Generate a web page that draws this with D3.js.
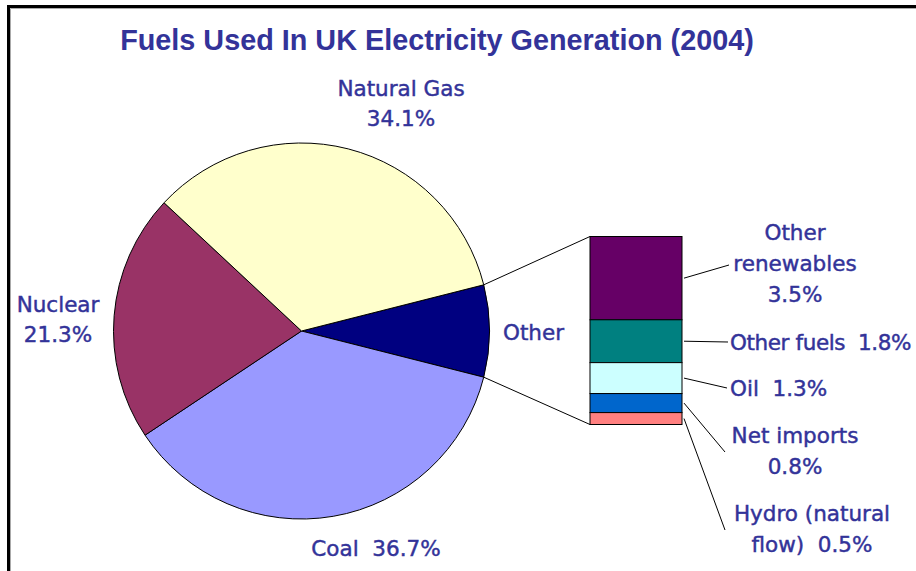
<!DOCTYPE html>
<html>
<head>
<meta charset="utf-8">
<script src="https://cdn.jsdelivr.net/npm/d3@7"></script>
<style>
  html, body { margin: 0; padding: 0; background: #fff; }
  svg { display: block; }
</style>
</head>
<body>
<svg id="chart" width="916" height="571"></svg>
<script>
// ---- data ----
const title = "Fuels Used In UK Electricity Generation (2004)";
const mainCategories = ["Coal", "Nuclear", "Natural Gas"];
const mainValues = [36.7, 21.3, 34.1];
const otherName = "Other";
const subCategories = ["Other renewables", "Other fuels", "Oil", "Net imports", "Hydro (natural flow)"];
const subValues = [3.5, 1.8, 1.3, 0.8, 0.5];

const mainColors = { "Other": "#000080", "Coal": "#9999FF", "Nuclear": "#993366", "Natural Gas": "#FFFFCC" };
const subColors = ["#660066", "#008080", "#CCFFFF", "#0066CC", "#FF8080"];
const textColor = "#333399";

const svg = d3.select("#chart");
const fmt = v => d3.format(".1f")(v) + "%";

// frame
svg.append("rect").attr("x", 8.5).attr("y", 6.5).attr("width", 1000).attr("height", 1000)
  .attr("fill", "none").attr("stroke", "#000").attr("stroke-width", 3);
svg.append("path").attr("d", "M10.5,1000V8.5H1000").attr("fill", "none").attr("stroke", "#aaa").attr("stroke-width", 1);

// title
svg.append("text").attr("x", 437).attr("y", 50).attr("text-anchor", "middle")
  .attr("font-family", "Liberation Sans, Arial, sans-serif").attr("font-weight", "bold")
  .attr("font-size", 28.8).attr("fill", textColor).text(title);

// ---- pie ----
const otherTotal = d3.sum(subValues);
const pieData = [{ name: otherName, value: otherTotal }].concat(mainCategories.map((c, i) => ({ name: c, value: mainValues[i] })));
const total = d3.sum(pieData, d => d.value);
const otherAngle = otherTotal / total * 2 * Math.PI;
const start = Math.PI / 2 - otherAngle / 2;
const pie = d3.pie().sort(null).value(d => d.value).startAngle(start).endAngle(start + 2 * Math.PI);
const cx = 301.5, cy = 331, r = 188;
const arc = d3.arc().innerRadius(0).outerRadius(r);
const arcs = pie(pieData);
const gPie = svg.append("g").attr("transform", `translate(${cx},${cy})`);
gPie.selectAll("path").data(arcs).join("path")
  .attr("d", arc).attr("fill", d => mainColors[d.data.name])
  .attr("stroke", "#000").attr("stroke-width", 1).attr("stroke-linejoin", "round");

// ---- bar ----
const barX = 590, barW = 92, barTop = 236.5, barBottom = 424.5;
const y = d3.scaleLinear().domain([0, otherTotal]).range([barTop, barBottom]);
const cum = d3.cumsum(subValues);
const segs = subValues.map((v, i) => ({ name: subCategories[i], value: v, y0: cum[i] - v, y1: cum[i], color: subColors[i] }));
svg.append("g").selectAll("rect").data(segs).join("rect")
  .attr("x", barX).attr("y", d => y(d.y0)).attr("width", barW).attr("height", d => y(d.y1) - y(d.y0))
  .attr("fill", d => d.color).attr("stroke", "#000").attr("stroke-width", 1);

// connectors from pie "Other" slice edges to bar corners
const o = arcs[0];
const pt = a => [cx + r * Math.sin(a), cy - r * Math.cos(a)];
const pTop = pt(o.startAngle), pBot = pt(o.endAngle);
svg.append("line").attr("x1", pTop[0]).attr("y1", pTop[1]).attr("x2", barX).attr("y2", y(0)).attr("stroke", "#000").attr("stroke-width", 1);
svg.append("line").attr("x1", pBot[0]).attr("y1", pBot[1]).attr("x2", barX).attr("y2", y(otherTotal)).attr("stroke", "#000").attr("stroke-width", 1);

// ---- labels ----
const lblFont = "DejaVu Sans, Verdana, sans-serif";
const lblSize = 21.5;
function label(lines, x, y0, anchor, dy, spacing) {
  const t = svg.append("text").attr("font-family", lblFont).attr("font-size", lblSize)
    .attr("fill", textColor).attr("stroke", textColor).attr("stroke-width", 0.45)
    .attr("text-anchor", anchor).attr("xml:space", "preserve");
  if (spacing) t.attr("letter-spacing", spacing);
  lines.forEach((l, i) => t.append("tspan").attr("x", x).attr("y", y0 + i * (dy || 31)).text(l));
}
// pie labels
label([mainCategories[2], fmt(mainValues[2])], 401, 96, "middle", 30);
label([mainCategories[1], fmt(mainValues[1])], 58, 312, "middle", 30);
label([mainCategories[0] + "  " + fmt(mainValues[0])], 376, 556, "middle");
label([otherName], 503, 340, "start");

// bar labels with leader lines
const barLabels = [
  { lines: ["Other", "renewables", fmt(subValues[0])], x: 795, y: 240, anchor: "middle", end: [729, 265] },
  { lines: [subCategories[1] + "  " + fmt(subValues[1])], x: 730, y: 350, anchor: "start", end: [728, 342], spacing: -0.4 },
  { lines: [subCategories[2] + "  " + fmt(subValues[2])], x: 730, y: 396, anchor: "start", end: [727, 388] },
  { lines: [subCategories[3], fmt(subValues[3])], x: 795, y: 443, anchor: "middle", end: [725, 452] },
  { lines: ["Hydro (natural", "flow)  " + fmt(subValues[4])], x: 812, y: 521, anchor: "middle", end: [725, 530] }
];
barLabels.forEach((b, i) => {
  const s = segs[i];
  svg.append("line").attr("x1", barX + barW + 2).attr("y1", (y(s.y0) + y(s.y1)) / 2)
    .attr("x2", b.end[0]).attr("y2", b.end[1]).attr("stroke", "#000").attr("stroke-width", 1);
  label(b.lines, b.x, b.y, b.anchor, 31, b.spacing);
});
</script>
</body>
</html>
